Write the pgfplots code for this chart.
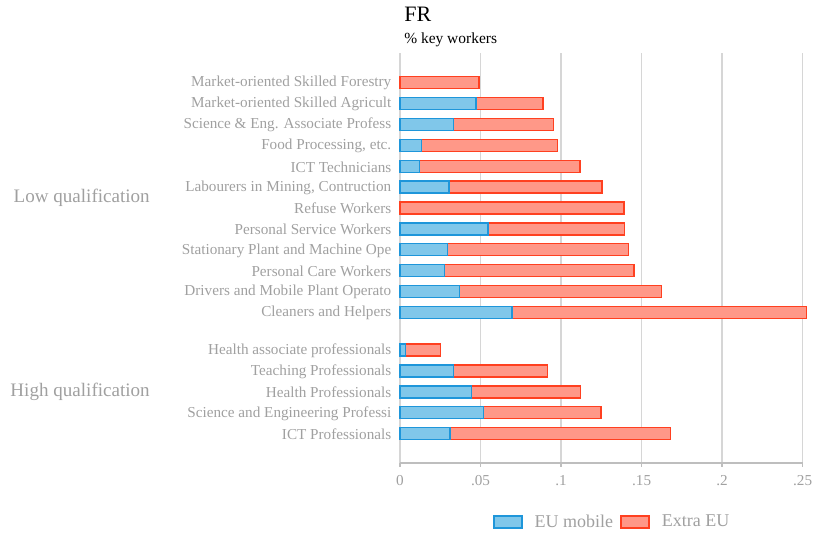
\documentclass[border=0pt]{standalone}
\usepackage{fontspec}
\setmainfont{Liberation Serif}
\usepackage{pgfplots}
\pgfplotsset{compat=1.18}
\definecolor{eufill}{RGB}{128,199,234}
\definecolor{euedge}{RGB}{30,150,218}
\definecolor{exfill}{RGB}{255,152,136}
\definecolor{exedge}{RGB}{255,64,32}
\definecolor{labelgray}{RGB}{160,160,160}
\definecolor{gridgray}{RGB}{214,214,214}
\definecolor{axisgray}{RGB}{190,190,190}
\begin{document}
\begin{tikzpicture}
\path[use as bounding box] (0,0) rectangle (610.5pt,401.25pt);
\begin{axis}[
  at={(300pt,54.2pt)}, anchor=south west,
  scale only axis, width=302pt, height=307.3pt,
  xbar stacked, bar width=9pt,
  xmin=0, xmax=0.25, ymin=-1.39, ymax=18.22,
  clip=false,
  axis x line*=bottom, axis y line*=left,
  y axis line style={draw=none},
  x axis line style={draw=axisgray, line width=1.5pt, -},
  xtick={0,0.05,0.1,0.15,0.2,0.25},
  xticklabels={0,.05,.1,.15,.2,.25},
  xtick style={draw=axisgray, line width=1pt},
  tick align=outside, major tick length=3pt,
  ytick style={draw=none},
  xmajorgrids, grid style={draw=gridgray, line width=1pt},
  /pgf/number format/assume math mode=true,
  ticklabel style={font=\fontsize{11.4pt}{13pt}\selectfont, text=labelgray},
  xticklabel style={yshift=-3pt},
  yticklabel style={xshift=0pt, yshift=-0.5pt},
  ytick={0,1,2,3,4,5.8,6.8,7.8,8.8,9.8,10.8,11.8,12.8,13.8,14.8,15.8,16.8},
  yticklabels={ICT Professionals,Science and Engineering Professi,Health Professionals,Teaching Professionals,Health associate professionals,Cleaners and Helpers,Drivers and Mobile Plant Operato,Personal Care Workers,Stationary Plant and Machine Ope,Personal Service Workers,Refuse Workers,{Labourers in Mining, Contruction},ICT Technicians,{Food Processing, etc.},Science \& Eng. Associate Profess,Market-oriented Skilled Agricult,Market-oriented Skilled Forestry},
  legend columns=2,
  legend style={at={(0.528,-0.1447)}, anchor=center, draw=none, fill=none,
    font=\fontsize{13.5pt}{15pt}\selectfont, text=labelgray,
    /tikz/every odd column/.append style={column sep=7pt},
    /tikz/every even column/.append style={column sep=3.5pt}},
  legend image code/.code={\draw[#1, line width=1pt] (0pt,-4.6pt) rectangle (21pt,4.6pt);},
]
\addplot[fill=eufill, draw=euedge, line width=1pt] coordinates {
(0.0311,0) (0.0518,1) (0.0443,2) (0.0331,3) (0.0033,4)
(0.0696,5.8) (0.0369,6.8) (0.0278,7.8) (0.0294,8.8) (0.0547,9.8)
(0,10.8) (0.0304,11.8) (0.0120,12.8) (0.0135,13.8) (0.0333,14.8)
(0.0472,15.8) (0,16.8)};
\addlegendentry{EU mobile}
\addplot[fill=exfill, draw=exedge, line width=1pt] coordinates {
(0.1368,0) (0.0730,1) (0.0679,2) (0.0584,3) (0.0217,4)
(0.1828,5.8) (0.1256,6.8) (0.1175,7.8) (0.1124,8.8) (0.0846,9.8)
(0.1391,10.8) (0.0951,11.8) (0.0998,12.8) (0.0842,13.8) (0.0619,14.8)
(0.0416,15.8) (0.0491,16.8)};
\addlegendentry{Extra EU}
\end{axis}
\node[anchor=base west, inner sep=0pt, font=\fontsize{16.5pt}{18pt}\selectfont] at (303pt,385pt) {FR};
\node[anchor=base west, inner sep=0pt, font=\fontsize{11.6pt}{13pt}\selectfont] at (303pt,368.3pt) {\% key workers};
\node[anchor=east, inner sep=0pt, text=labelgray, font=\fontsize{14.3pt}{16pt}\selectfont] at (112.5pt,252.8pt) {Low qualification};
\node[anchor=east, inner sep=0pt, text=labelgray, font=\fontsize{14.3pt}{16pt}\selectfont] at (112.5pt,107.3pt) {High qualification};
\end{tikzpicture}
\end{document}
